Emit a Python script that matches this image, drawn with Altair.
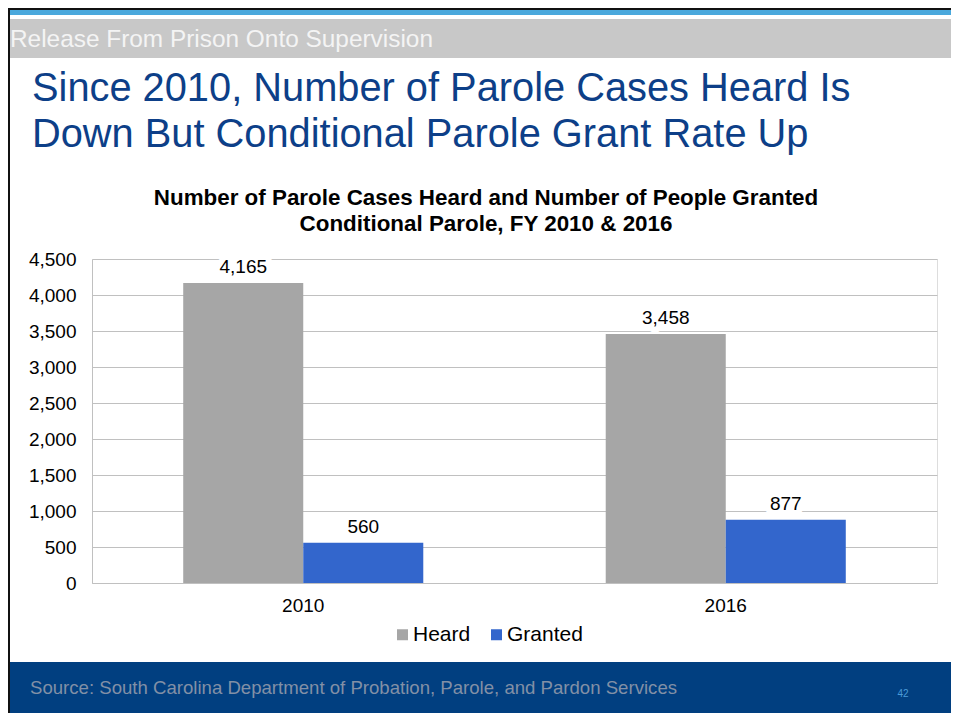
import altair as alt
import pandas as pd

# ---- data ----
years = ["2010", "2016"]
series = ["Heard", "Granted"]
heard = [4165, 3458]
granted = [560, 877]
y_ticks = [0, 500, 1000, 1500, 2000, 2500, 3000, 3500, 4000, 4500]

header_text = "Release From Prison Onto Supervision"
title_lines = ["Since 2010, Number of Parole Cases Heard Is",
               "Down But Conditional Parole Grant Rate Up"]
chart_title_lines = ["Number of Parole Cases Heard and Number of People Granted",
                     "Conditional Parole, FY 2010 & 2016"]
source_text = "Source: South Carolina Department of Probation, Parole, and Pardon Services"
page_number = "42"

rows = []
for i, yr in enumerate(years):
    rows.append({"year": yr, "series": "Heard", "value": heard[i]})
    rows.append({"year": yr, "series": "Granted", "value": granted[i]})
df = pd.DataFrame(rows)

# ---- layout (page coordinates -> view coordinates) ----
PW, PH = 845, 324          # plot area
OX, OY = 92, 259           # page position of plot origin
TOTAL_W, TOTAL_H = 943, 705
PAD_L, PAD_T = OX - 8, OY - 8
PAD_R = TOTAL_W - PAD_L - PW
PAD_B = TOTAL_H - PAD_T - PH


def vx(px):
    return px - OX


def vy(py):
    return py - OY


FONT = "Liberation Sans"
GRAY_BAR = "#a6a6a6"
BLUE_BAR = "#3366cc"
GRID = "#c0c0c0"

one = alt.Data(values=[{}])


def rect(x1, x2, y1, y2, color):
    return alt.Chart(one).mark_rect(color=color, opacity=1).encode(
        x=alt.value(vx(x1)), x2=alt.value(vx(x2)),
        y=alt.value(vy(y1)), y2=alt.value(vy(y2)))


def text(s, x, y, size, color, align="left", bold=False):
    return alt.Chart(one).mark_text(
        align=align, baseline="alphabetic", fontSize=size, color=color,
        font=FONT, fontWeight="bold" if bold else "normal").encode(
        x=alt.value(vx(x)), y=alt.value(vy(y)), text=alt.value(s))


decor = [
    rect(8, 959, 8, 10, "#111111"),
    rect(10, 959, 10, 15, "#4aa8dc"),
    rect(10, 959, 19, 58, "#c8c8c8"),
    rect(10, 959, 662, 721, "#013f80"),
    rect(8, 10, 8, 721, "#111111"),
    text(header_text, 10, 47, 24.4, "#f4f4f4"),
    text(title_lines[0], 32, 101, 39.8, "#0d3f88"),
    text(title_lines[1], 32, 147, 39.8, "#0d3f88"),
    text(chart_title_lines[0], 486, 205, 22.4, "#000000", align="center", bold=True),
    text(chart_title_lines[1], 486, 231, 22.4, "#000000", align="center", bold=True),
    text(source_text, 30, 694, 18.6, "#8290a6"),
    text(page_number, 903, 697, 10, "#4a9ad8", align="center"),
]

x_enc = alt.X("year:N", sort=years,
              scale=alt.Scale(paddingInner=0, paddingOuter=0),
              axis=alt.Axis(title=None, labelAngle=0, ticks=False,
                            domainColor=GRID, labelFontSize=19,
                            labelColor="#000000", labelPadding=13,
                            labelFont=FONT, grid=False))
xo_enc = alt.XOffset("series:N", sort=series,
                     scale=alt.Scale(domain=series, paddingInner=0, paddingOuter=0.76))
y_enc = alt.Y("value:Q",
              scale=alt.Scale(domain=[0, 4500], nice=False, zero=True),
              axis=alt.Axis(title=None, values=y_ticks, format=",.0f",
                            ticks=False, domainColor=GRID, gridColor=GRID,
                            grid=True, labelFontSize=19, labelColor="#000000",
                            labelPadding=16, labelFont=FONT))

base = alt.Chart(df)

bars = base.mark_bar().encode(
    x=x_enc, xOffset=xo_enc, y=y_enc,
    color=alt.Color("series:N", sort=series,
                    scale=alt.Scale(domain=series, range=[GRAY_BAR, BLUE_BAR]),
                    legend=alt.Legend(title=None, orient="none",
                                      legendX=vx(392), legendY=vy(624),
                                      direction="horizontal",
                                      symbolType="square", symbolSize=121,
                                      symbolStrokeWidth=0,
                                      labelFontSize=21, labelFont=FONT,
                                      labelColor="#000000", labelOffset=0,
                                      columnPadding=15, padding=0)))

halo = base.mark_text(dy=-16, baseline="middle", fontSize=19, font=FONT,
                      fill="white", stroke="white", strokeWidth=12,
                      strokeJoin="round").encode(
    x=x_enc, xOffset=xo_enc, y=y_enc,
    text=alt.Text("value:Q", format=",.0f"))

labels = base.mark_text(dy=-16, baseline="middle", fontSize=19, font=FONT,
                        color="#000000").encode(
    x=x_enc, xOffset=xo_enc, y=y_enc,
    text=alt.Text("value:Q", format=",.0f"))

chart = alt.layer(*decor, bars, halo, labels).properties(
    width=PW, height=PH,
    padding={"left": PAD_L, "top": PAD_T, "right": PAD_R, "bottom": PAD_B},
    autosize=alt.AutoSizeParams(type="none"),
    background="white",
).configure_view(strokeWidth=0).configure(font=FONT)

chart.save("out.html", embed_options={"renderer": "svg", "actions": False})
